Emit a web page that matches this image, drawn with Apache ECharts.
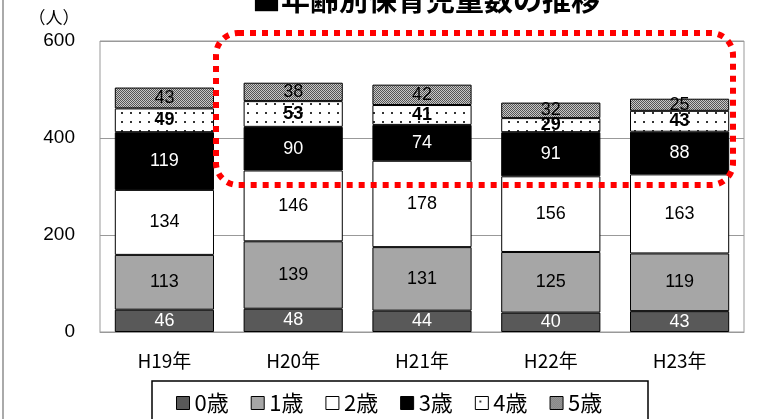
<!DOCTYPE html>
<html>
<head>
<meta charset="utf-8">
<script src="https://cdn.jsdelivr.net/npm/echarts@6/dist/echarts.min.js"></script>
<style>html,body{margin:0;padding:0;background:#fff;}#c{width:757px;height:419px;}</style>
</head>
<body>
<div id="c"></div>
<script>
const categories = ['H19年', 'H20年', 'H21年', 'H22年', 'H23年'];
const seriesNames = ['0歳', '1歳', '2歳', '3歳', '4歳', '5歳'];
const age0 = [46, 48, 44, 40, 43];
const age1 = [113, 139, 131, 125, 119];
const age2 = [134, 146, 178, 156, 163];
const age3 = [119, 90, 74, 91, 88];
const age4 = [49, 53, 41, 29, 43];
const age5 = [43, 38, 42, 32, 25];
const totals = [504, 514, 510, 473, 481];
const yTicks = [0, 200, 400, 600];

function dotPattern() {
  const c = document.createElement('canvas');
  c.width = 9; c.height = 9;
  const g = c.getContext('2d');
  g.fillStyle = '#fff'; g.fillRect(0, 0, 9, 9);
  g.fillStyle = '#333'; g.fillRect(4, 4, 2, 2);
  return c;
}
function checkPattern() {
  const c = document.createElement('canvas');
  c.width = 2; c.height = 2;
  const g = c.getContext('2d');
  g.fillStyle = '#c8c8c8'; g.fillRect(0, 0, 2, 2);
  g.fillStyle = '#555'; g.fillRect(0, 0, 1, 1); g.fillRect(1, 1, 1, 1);
  return c;
}

const FONT = '"Noto Sans CJK JP", "Noto Sans", sans-serif';
const NUMFONT = '"Liberation Sans", sans-serif';
const colors = ['#595959', '#a6a6a6', '#ffffff', '#000000',
  { image: dotPattern(), repeat: 'repeat' },
  { image: checkPattern(), repeat: 'repeat' }];
const labelColors = ['#fff', '#000', '#000', '#fff', '#000', '#000'];
const labelWeights = ['normal', 'normal', 'normal', 'normal', 'bold', 'normal'];
const dataSets = [age0, age1, age2, age3, age4, age5];

const series = dataSets.map((d, i) => ({
  name: seriesNames[i],
  type: 'bar',
  stack: 'total',
  barWidth: '77%',
  data: d,
  itemStyle: { color: colors[i], borderColor: '#000', borderWidth: 1 },
  label: {
    show: true, position: 'inside', color: labelColors[i],
    fontSize: 18, fontWeight: labelWeights[i], fontFamily: NUMFONT
  },
  emphasis: { disabled: true }
}));
series.push({
  name: '合計', type: 'line', data: totals, symbol: 'none',
  lineStyle: { opacity: 0 }, silent: true,
  label: { show: true, position: 'top', distance: 12, color: '#000', fontSize: 18, fontFamily: NUMFONT }
});

const chart = echarts.init(document.getElementById('c'));
chart.setOption({
  animation: false,
  color: colors,
  grid: { left: 100, right: 13, top: 41, bottom: 87, show: true, borderColor: '#999', borderWidth: 1 },
  legend: {
    data: seriesNames, left: 171, top: 387, itemWidth: 13, itemHeight: 13, itemGap: 22, icon: 'rect',
    textStyle: { fontSize: 22, color: '#000', fontFamily: FONT },
    itemStyle: { borderColor: '#000', borderWidth: 1 }
  },
  xAxis: {
    type: 'category', data: categories,
    axisTick: { show: false },
    axisLine: { lineStyle: { color: '#999' } },
    axisLabel: { fontSize: 19, color: '#000', margin: 19, fontFamily: FONT }
  },
  yAxis: {
    type: 'value', min: yTicks[0], max: yTicks[yTicks.length - 1], interval: 200,
    axisLine: { show: false }, axisTick: { show: false },
    splitLine: { lineStyle: { color: '#999' } },
    axisLabel: { fontSize: 19, color: '#000', margin: 25, fontFamily: NUMFONT }
  },
  graphic: [
    { type: 'line', shape: { x1: 3, y1: 0, x2: 3, y2: 419 }, style: { stroke: '#aaa', lineWidth: 2 } },
    { type: 'text', x: 426, y: 0, style: { text: '■年齢別保育児童数の推移', font: 'bold 29px "Noto Sans CJK JP"', fill: '#000', textAlign: 'center', textVerticalAlign: 'middle' } },
    { type: 'text', x: 54, y: 18, style: { text: '（人）', font: '17px "Noto Sans CJK JP"', fill: '#000', textAlign: 'center', textVerticalAlign: 'middle' } },
    { type: 'rect', shape: { x: 152, y: 381, width: 496, height: 50 }, style: { fill: 'none', stroke: '#000', lineWidth: 1.5 } },
    { type: 'rect', z: 100, shape: { x: 216, y: 33, width: 517, height: 152, r: 22 }, style: { fill: 'none', stroke: '#ff0000', lineWidth: 6, lineDash: [6, 6] } }
  ],
  series: series
});
</script>
</body>
</html>
